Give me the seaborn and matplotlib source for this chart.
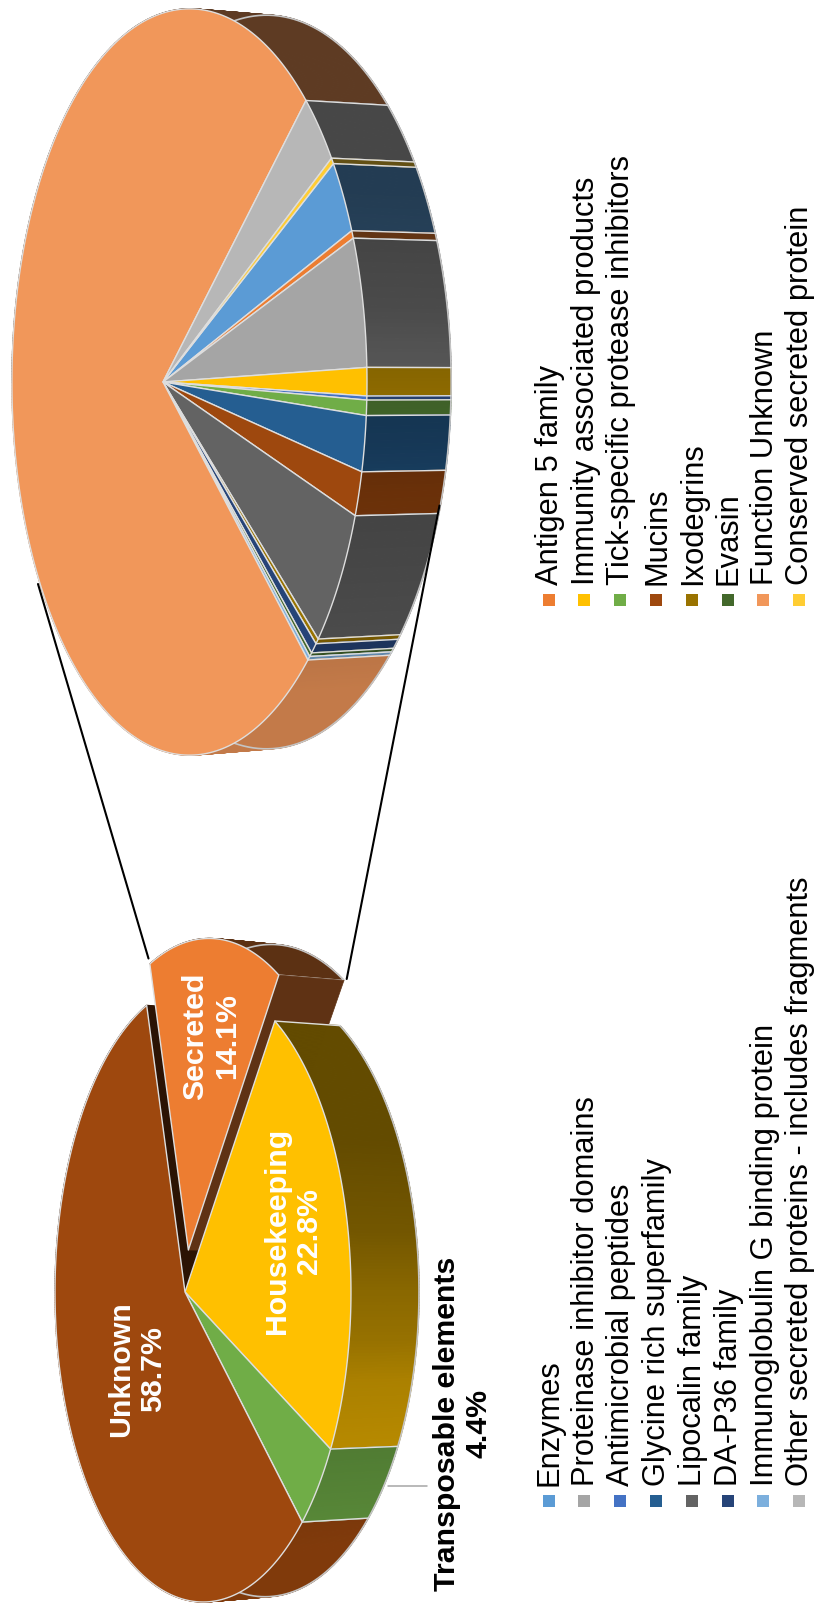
import numpy as np
import matplotlib
matplotlib.use("Agg")
import matplotlib.pyplot as plt
from matplotlib.collections import PolyCollection
from matplotlib.colors import to_rgb
import seaborn as sns

# ---------- data ----------
main_labels = ["Housekeeping", "Transposable elements", "Unknown", "Secreted"]
main_values = [22.8, 4.4, 58.7, 14.1]
main_colors = ["#FFC000", "#70AD47", "#9E480E", "#ED7D31"]
main_explode = [0.0, 0.0, 0.0, 0.138]

sub_labels = ["Enzymes", "Antigen 5 family", "Proteinase inhibitor domains",
              "Immunity associated products", "Antimicrobial peptides",
              "Tick-specific protease inhibitors", "Glycine rich superfamily",
              "Mucins", "Lipocalin family", "Ixodegrins", "DA-P36 family",
              "Evasin", "Immunoglobulin G binding protein", "Function Unknown",
              "Other secreted proteins - includes fragments",
              "Conserved secreted protein"]
sub_values = [2.9, 0.3, 4.9, 1.05, 0.15, 0.57, 2.1, 1.7, 5.5, 0.25, 0.5, 0.2, 0.2,
              76.4, 3.0, 0.25]
sub_colors = ["#5B9BD5", "#ED7D31", "#A5A5A5", "#FFC000", "#4472C4", "#70AD47",
              "#255E91", "#9E480E", "#636363", "#997300", "#264478", "#43682B",
              "#7CAFDD", "#F1975A", "#B7B7B7", "#FFCD33"]

legend_col_a = ["Enzymes", "Proteinase inhibitor domains", "Antimicrobial peptides",
                "Glycine rich superfamily", "Lipocalin family", "DA-P36 family",
                "Immunoglobulin G binding protein",
                "Other secreted proteins - includes fragments"]
legend_col_b = ["Antigen 5 family", "Immunity associated products",
                "Tick-specific protease inhibitors", "Mucins", "Ixodegrins", "Evasin",
                "Function Unknown", "Conserved secreted protein"]

# side-wall lighting (style): view angle in degrees -> brightness
light_angle = [-60, -26, -10, 0, 8, 15, 28, 50]
light_level = [0.39, 0.39, 0.45, 0.54, 0.59, 0.67, 0.72, 0.81]

EDGE = "#DEDEDE"
RIM = "#C4C4C4"

# ---------- theme ----------
sns.set_theme(style="white")
plt.rcParams["font.family"] = ["Liberation Sans", "DejaVu Sans"]

fig = plt.figure(figsize=(8.15, 16.08), dpi=100)
ax = fig.add_axes([0, 0, 1, 1])
ax.set_xlim(0, 815)
ax.set_ylim(1608, 0)
ax.axis("off")

_z = [10]


def nz():
    _z[0] += 1
    return _z[0]


class Pie3D:
    """Pie on a tilted disc: unit-circle slices seen through a perspective map."""

    def __init__(self, values, colors, start, x0, y0, a, b, k, drop, explode=None):
        self.values = np.asarray(values, float)
        self.colors = [np.array(to_rgb(c)) for c in sns.color_palette(colors)]
        sweep = self.values / self.values.sum() * 360
        self.t0 = start + np.concatenate([[0], np.cumsum(sweep)[:-1]])
        self.t1 = self.t0 + sweep
        self.x0, self.y0, self.a, self.b, self.k, self.drop = x0, y0, a, b, k, drop
        self.explode = explode if explode is not None else [0] * len(values)

    def offset(self, i):
        mid = np.radians((self.t0[i] + self.t1[i]) / 2)
        e = self.explode[i]
        return e * np.cos(mid), e * np.sin(mid)

    def top(self, u, v):
        w = 1 - self.k * np.asarray(u)
        return self.x0 + self.a * np.asarray(u) / w, self.y0 + self.b * np.asarray(v) / w

    def base(self, X, Y):
        return (self.x0 + 1.04 * (np.asarray(X) - self.x0) + self.drop,
                self.y0 + 0.983 * (np.asarray(Y) - self.y0))

    def rim(self, i, n_per_deg=1.0):
        n = max(3, int((self.t1[i] - self.t0[i]) * n_per_deg) + 2)
        th = np.linspace(self.t0[i], self.t1[i], n)
        du, dv = self.offset(i)
        X, Y = self.top(np.cos(np.radians(th)) + du, np.sin(np.radians(th)) + dv)
        return th, X, Y

    def apex(self, i):
        du, dv = self.offset(i)
        return self.top(du, dv)

    def draw_side(self, i):
        th, X, Y = self.rim(i, 2.0)
        BX, BY = self.base(X, Y)
        wrapped = (th + 180) % 360 - 180
        quads, cols = [], []
        for j in range(len(th) - 1):
            quads.append([(X[j], Y[j]), (X[j + 1], Y[j + 1]), (BX[j + 1], BY[j + 1]), (BX[j], BY[j])])
            level = np.interp((wrapped[j] + wrapped[j + 1]) / 2, light_angle, light_level)
            cols.append(self.colors[i] * level)
        ax.add_collection(PolyCollection(quads, facecolors=cols, edgecolors=cols,
                                         linewidths=0.9, zorder=nz()))
        ax.plot(BX, BY, color=RIM, lw=1.2, solid_capstyle="round", zorder=nz())
        for end in (0, -1):
            if np.cos(np.radians(th[end])) > 0:
                ax.plot([X[end], BX[end]], [Y[end], BY[end]], color=EDGE, lw=1.0, zorder=nz())

    def draw_wall(self, i, end, level):
        th, X, Y = self.rim(i)
        ax0, ay0 = self.apex(i)
        bx0, by0 = self.base(ax0, ay0)
        bx1, by1 = self.base(X[end], Y[end])
        col = self.colors[i] * level
        ax.fill([ax0, X[end], bx1, bx0], [ay0, Y[end], by1, by0], facecolor=col,
                edgecolor=col, lw=0.5, zorder=nz())

    def draw_top(self, i):
        th, X, Y = self.rim(i)
        ax0, ay0 = self.apex(i)
        ax.fill(np.r_[ax0, X], np.r_[ay0, Y], facecolor=self.colors[i], edgecolor=EDGE,
                lw=1.0, joinstyle="round", zorder=nz())


# ---------- detail pie (top of the page) ----------
detail = Pie3D(sub_values, sub_colors, start=-31.1, x0=163, y0=383, a=173.6, b=369,
               k=0.149, drop=76)
for i in range(len(sub_values)):
    detail.draw_side(i)
for i in range(len(sub_values)):
    detail.draw_top(i)

# ---------- main pie (bottom of the page) ----------
main = Pie3D(main_values, main_colors, start=-55, x0=185, y0=1293, a=145.8, b=307.7,
             k=0.1216, drop=61.4, explode=main_explode)
HK, TE, UNK, SEC = 0, 1, 2, 3
main.draw_side(UNK)
main.draw_wall(UNK, -1, 0.27)
main.draw_side(SEC)
main.draw_wall(SEC, -1, 0.40)
main.draw_top(SEC)
main.draw_side(HK)
main.draw_top(HK)
main.draw_side(TE)
main.draw_top(TE)
main.draw_top(UNK)

# ---------- connectors ----------
ax.plot([38, 148.5], [585, 959.5], color="black", lw=1.5, zorder=nz())
ax.plot([439.5, 346.7], [506.5, 980], color="black", lw=1.5, zorder=nz())
ax.plot([388, 427], [1487, 1487], color="#A6A6A6", lw=1.1, zorder=nz())

# ---------- slice labels ----------
lab = dict(rotation=90, ha="center", va="center", multialignment="center",
           fontsize=21.8, fontweight="bold", linespacing=1.17, zorder=nz())
ax.text(137, 1369, f"{main_labels[2]}\n{main_values[2]}%", color="white", **lab)
ax.text(211, 1036, f"{main_labels[3]}\n{main_values[3]}%", color="white", **lab)
ax.text(293, 1231, f"{main_labels[0]}\n{main_values[0]}%", color="white", **lab)
ax.text(463, 1424, f"{main_labels[1]}\n{main_values[1]}%", color="black",
        **{**lab, "fontsize": 21.8})

# ---------- legend ----------
color_of = dict(zip(sub_labels, sub_colors))
for names, y_text, y_box in ((legend_col_a, 1486, 1502), (legend_col_b, 585, 601)):
    for j, name in enumerate(names):
        xc = 548.5 + 35.8 * j
        ax.scatter([xc], [y_box], marker="s", s=87, color=color_of[name], linewidths=0,
                   zorder=nz())
        ax.text(xc + 9.3, y_text, name, rotation=90, rotation_mode="anchor", ha="left",
                va="baseline", fontsize=22.2, color="black", zorder=nz())

fig.savefig("out.png", dpi=100, facecolor="white")
